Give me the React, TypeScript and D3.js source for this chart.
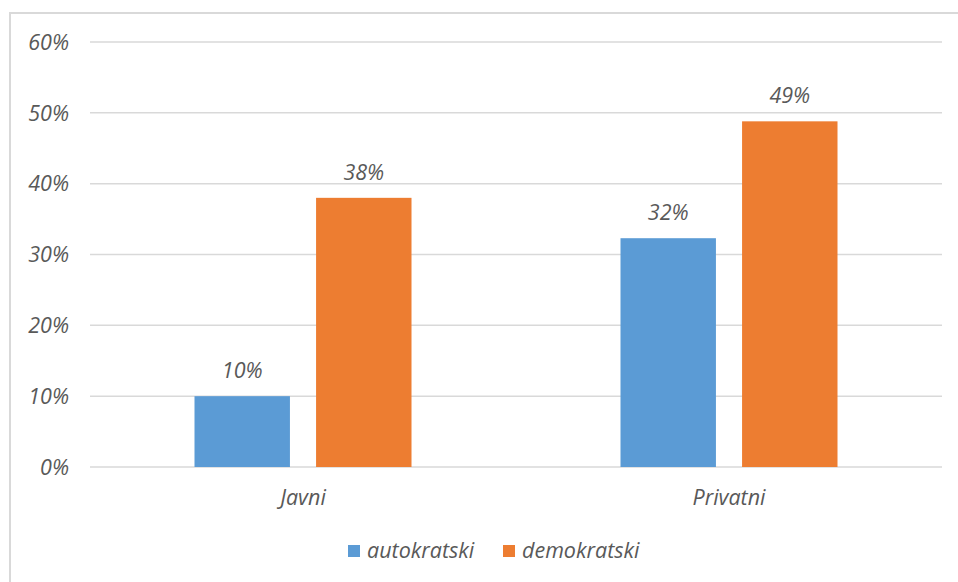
import React from "react";
import * as d3 from "d3";

const categories = ["Javni", "Privatni"];
const seriesNames = ["autokratski", "demokratski"];
const autokratski = [10.0, 32.3];
const demokratski = [38.0, 48.8];
const yTicks = [0, 10, 20, 30, 40, 50, 60];
const colors = ["#5B9BD5", "#ED7D31"];

const W = 958;
const H = 582;
const FONT = "'Open Sans', sans-serif";
const TEXT = "#595959";
const FS = 21.5;

export default function App() {
  const left = 90, right = 942, top = 42, bottom = 467;
  const x0 = d3.scaleBand<string>().domain(categories).range([left, right]).paddingInner(0).paddingOuter(0);
  const y = d3.scaleLinear().domain([0, 60]).range([bottom, top]);
  const groupW = 217;
  const x1 = d3.scaleBand<string>().domain(seriesNames).range([0, groupW]).paddingInner(0.215);
  const series = [autokratski, demokratski];

  return (
    <svg width={W} height={H} style={{ position: "absolute", left: 0, top: 0, background: "#fff" }}>
      <rect x={10} y={13} width={W + 20} height={H + 20} fill="#fff" stroke="#D9D9D9" strokeWidth={2} />
      {yTicks.map((t) => (
        <g key={t}>
          <line x1={left} x2={right} y1={y(t)} y2={y(t)} stroke="#D9D9D9" strokeWidth={1.5} />
          <text x={69} y={y(t)} dy="0.36em" textAnchor="end" fontFamily={FONT} fontStyle="italic" fontSize={FS} fill={TEXT}>
            {d3.format(".0%")(t / 100)}
          </text>
        </g>
      ))}
      {categories.map((c, ci) => {
        const gx = (x0(c) as number) + (x0.bandwidth() - groupW) / 2;
        return (
          <g key={c}>
            {series.map((s, si) => {
              const bx = gx + (x1(seriesNames[si]) as number);
              const bw = x1.bandwidth();
              return (
                <g key={si}>
                  <rect x={bx} y={y(s[ci])} width={bw} height={bottom - y(s[ci])} fill={colors[si]} />
                  <text x={bx + bw / 2} y={y(s[ci]) - 18} textAnchor="middle" fontFamily={FONT} fontStyle="italic" fontSize={FS} fill={TEXT}>
                    {Math.round(s[ci]) + "%"}
                  </text>
                </g>
              );
            })}
            <text x={(x0(c) as number) + x0.bandwidth() / 2} y={505} textAnchor="middle" fontFamily={FONT} fontStyle="italic" fontSize={FS} fill={TEXT}>
              {c}
            </text>
          </g>
        );
      })}
      {seriesNames.map((n, i) => {
        const lx = [348, 503][i];
        return (
          <g key={n}>
            <rect x={lx} y={545} width={12} height={12} fill={colors[i]} />
            <text x={lx + 19} y={558} fontFamily={FONT} fontStyle="italic" fontSize={FS} fill={TEXT}>
              {n}
            </text>
          </g>
        );
      })}
    </svg>
  );
}
